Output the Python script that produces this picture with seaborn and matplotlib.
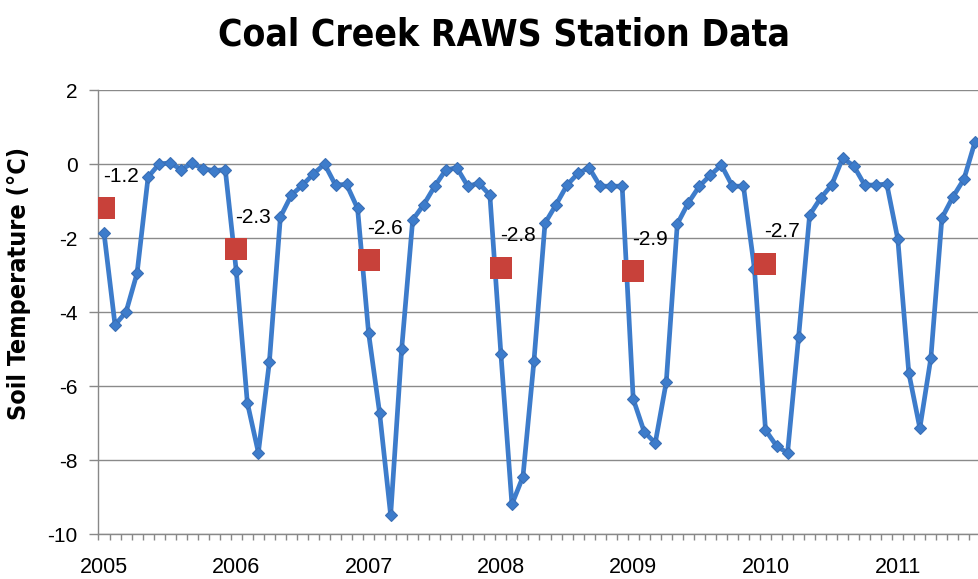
import numpy as np
import pandas as pd
import matplotlib
matplotlib.use("Agg")
import matplotlib.pyplot as plt
import seaborn as sns

# Monthly mean soil temperature (°C), January onward for each year
years = [2005, 2006, 2007, 2008, 2009, 2010, 2011]
temp_2005 = [-1.86, -4.35, -4.00, -2.95, -0.35, 0.00, 0.03, -0.15, 0.02, -0.13, -0.18, -0.15]
temp_2006 = [-2.90, -6.45, -7.80, -5.35, -1.43, -0.84, -0.57, -0.27, 0.00, -0.57, -0.55, -1.20]
temp_2007 = [-4.57, -6.73, -9.49, -5.00, -1.51, -1.10, -0.60, -0.16, -0.10, -0.60, -0.52, -0.84]
temp_2008 = [-5.13, -9.20, -8.45, -5.32, -1.60, -1.10, -0.57, -0.25, -0.10, -0.60, -0.60, -0.60]
temp_2009 = [-6.35, -7.24, -7.54, -5.89, -1.62, -1.05, -0.60, -0.30, -0.03, -0.60, -0.60, -2.84]
temp_2010 = [-7.19, -7.62, -7.81, -4.68, -1.38, -0.92, -0.57, 0.16, -0.05, -0.57, -0.57, -0.54]
temp_2011 = [-2.03, -5.65, -7.14, -5.24, -1.46, -0.89, -0.41, 0.60]

# Annual mean soil temperature, plotted at the start of each year
mean_years = [2005, 2006, 2007, 2008, 2009, 2010]
annual_mean = [-1.2, -2.3, -2.6, -2.8, -2.9, -2.7]

y_ticks = [2, 0, -2, -4, -6, -8, -10]

monthly = [temp_2005, temp_2006, temp_2007, temp_2008, temp_2009, temp_2010, temp_2011]
rows = []
for yr, vals in zip(years, monthly):
    for m, v in enumerate(vals):
        rows.append({"t": yr + m / 12.0, "temp": v})
df = pd.DataFrame(rows)
df_mean = pd.DataFrame({"t": mean_years, "temp": annual_mean})

sns.set_style("white")
plt.rcParams["font.family"] = ["Liberation Sans", "DejaVu Sans"]
plt.rcParams["text.color"] = "black"

fig = plt.figure(figsize=(9.79, 5.79), dpi=100)
ax = fig.add_axes([98 / 979, 45 / 579, 1 - 98 / 979, (534 - 90) / 579])

blue = "#3D7CCB"
red = "#C8413A"

sns.lineplot(data=df, x="t", y="temp", ax=ax, color=blue, linewidth=3.4,
             marker="D", markersize=6.5, markeredgecolor="#3A6FB5",
             markeredgewidth=0.8, zorder=3)
sns.scatterplot(data=df_mean, x="t", y="temp", ax=ax, color=red, marker="s",
                s=230, edgecolor=red, linewidth=0, zorder=4)

for x, v in zip(mean_years, annual_mean):
    ax.annotate(f"{v:.1f}", xy=(x, v), xytext=(12, 23), textcoords="offset points",
                ha="center", va="center", fontsize=15, color="black", zorder=5)

x_left = 2005 - 6 / 132.3
x_right = 2005 + (979 - 104) / 132.3
ax.set_xlim(x_left, x_right)
ax.set_ylim(-10, 2)

ax.set_yticks(y_ticks)
ax.set_yticklabels([str(t) for t in y_ticks])
ax.set_xticks(years)
ax.set_xticklabels([str(y) for y in years])
month_edges = np.arange(2005 - 0.5 / 12, x_right, 1 / 12)
ax.set_xticks(month_edges, minor=True)

ax.tick_params(axis="y", which="major", length=6.5, width=1, color="#888888",
               labelsize=15, pad=8, left=True, labelcolor="black")
ax.tick_params(axis="x", which="major", length=0, labelsize=15.5, pad=16.5,
               labelcolor="black")
ax.tick_params(axis="x", which="minor", length=4, width=1, color="#888888",
               bottom=True)

ax.grid(axis="y", color="#8A8A8A", linewidth=1.0)
ax.grid(axis="x", visible=False)
ax.set_axisbelow(True)

for side in ["top", "right"]:
    ax.spines[side].set_visible(False)
for side in ["left", "bottom"]:
    ax.spines[side].set_color("#888888")
    ax.spines[side].set_linewidth(1.0)

ax.set_xlabel("")
ax.set_ylabel("")

fig.text(504 / 979, 1 - 35 / 579, "Coal Creek RAWS Station Data",
         ha="center", va="center", fontsize=26.7, fontweight="bold",
         fontstretch="condensed", color="black",
         family=["DejaVu Sans", "Liberation Sans"])
fig.text(19 / 979, 1 - 284 / 579, "Soil Temperature (°C)", rotation=90,
         ha="center", va="center", fontsize=18, fontweight="bold", color="black",
         fontstretch="condensed", family=["DejaVu Sans", "Liberation Sans"])

fig.savefig("out.png", dpi=100)
